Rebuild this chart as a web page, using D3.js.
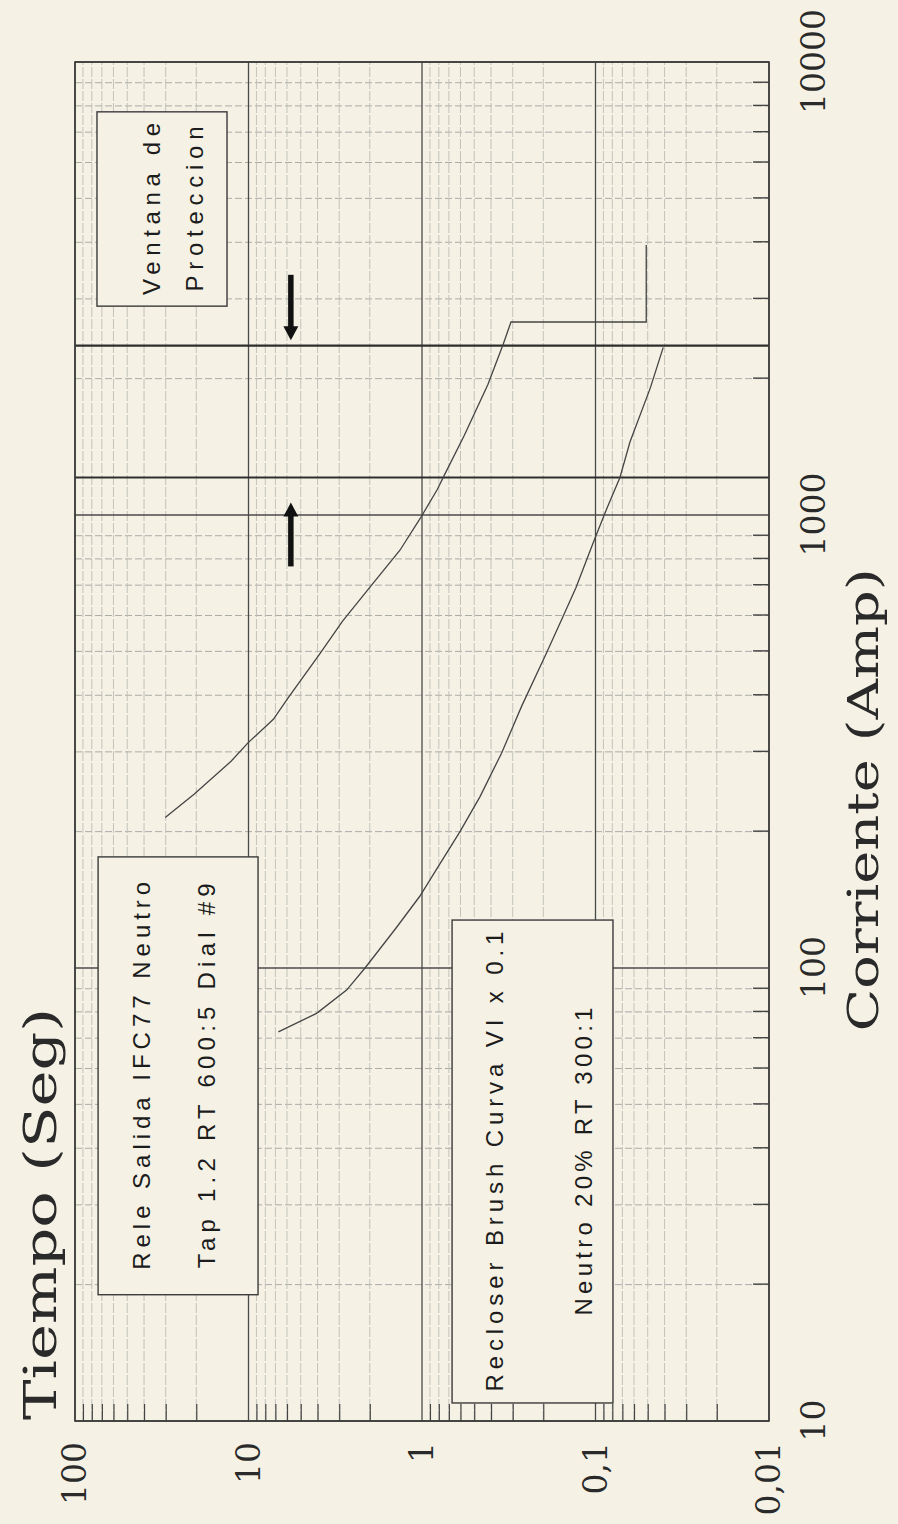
<!DOCTYPE html>
<html>
<head>
<meta charset="utf-8">
<script src="https://cdn.jsdelivr.net/npm/d3@7"></script>
<style>
html, body { margin: 0; padding: 0; background: #f5f2e5; }
svg { display: block; }
.box-text { font-family: "Liberation Sans", Arial, sans-serif; font-size: 24px; fill: #1c1c1c; }
.ax-text { font-family: "DejaVu Serif", serif; fill: #2a2a2a; }
</style>
</head>
<body>
<svg id="chart"></svg>
<script>
// current (A) runs along the plot's horizontal axis, time (s) along the vertical one;
// the whole sheet is turned a quarter turn, as on the scanned printout
const currentTicks = [10, 100, 1000, 10000];
const currentLabels = ['10', '100', '1000', '10000'];
const timeTicks = [100, 10, 1, 0.1, 0.01];
const timeLabels = ['100', '10', '1', '0,1', '0,01'];

// Rele Salida IFC77 Neutro (ends with the instantaneous step)
const releCurrent = [215, 242, 286, 314, 354, 396, 491, 583, 692, 836, 985, 1140, 1220, 1500, 1941, 2385, 2667, 2667, 3945];
const releTime = [30.2, 20.6, 12.6, 10.07, 7.19, 5.87, 3.92, 2.87, 2.00, 1.34, 1.02, 0.815, 0.747, 0.570, 0.417, 0.340, 0.307, 0.051, 0.051];

// Recloser Brush curva VI x 0.1
const recloserCurrent = [72.3, 79.4, 89.4, 100, 123, 144, 170, 200, 239, 298, 379, 491, 593, 692, 865, 1028, 1210, 1449, 1908, 2344];
const recloserTime = [6.73, 4.05, 2.72, 2.13, 1.40, 1.03, 0.787, 0.604, 0.463, 0.348, 0.266, 0.194, 0.155, 0.1295, 0.1035, 0.0865, 0.0723, 0.0633, 0.0483, 0.0407];

// ventana de proteccion: limit currents and the arrows pointing at them
const windowCurrents = [1210, 2366];
const arrowTime = 5.7;
const arrowFrom = [3390, 770];
const arrowTo = [2430, 1065];

// text boxes, in data units: [current lo, current hi], [time lo, time hi]
const boxes = [
    { cur: [2891, 7762], time: [13.3, 74.7], lines: ['Ventana de', 'Proteccion'], off: [63, 106], len: [172, 165] },
    { cur: [19.0, 175.9], time: [8.81, 73.6], lines: ['Rele Salida IFC77 Neutro', 'Tap 1.2 RT 600:5 Dial #9'], off: [52, 117], len: [388, 385] },
    { cur: [10.96, 127.6], time: [0.0793, 0.671], lines: ['Recloser Brush Curva VI x 0.1', 'Neutro 20% RT 300:1'], off: [51, 140], len: [460, 308] }
];

const W = 898, H = 1524;
const BG = '#f5f2e5';

const svg = d3.select('#chart').attr('width', W).attr('height', H);
svg.append('rect').attr('width', W).attr('height', H).attr('fill', BG);

// unrotated frame: width H, height W
const g = svg.append('g').attr('transform', `translate(0,${H}) rotate(-90)`);

const x = d3.scaleLog().domain([10, 10000]).range([103, 1462]);
const y = d3.scaleLog().domain([0.01, 100]).range([769, 75]);
const [x0, x1] = x.range();
const [y1, y0] = y.range();

const isDecade = v => Math.abs(Math.log10(v) - Math.round(Math.log10(v))) < 1e-9;
const curMinor = x.ticks().filter(v => !isDecade(v));
const timeMinor = y.ticks().filter(v => !isDecade(v));

// minor grid
g.append('g').selectAll('line').data(curMinor).join('line')
    .attr('x1', d => x(d)).attr('x2', d => x(d))
    .attr('y1', y0).attr('y2', y1)
    .attr('stroke', '#a4a4a0').attr('stroke-width', 0.9)
    .attr('stroke-dasharray', '7 3');
g.append('g').selectAll('line').data(timeMinor).join('line')
    .attr('x1', x0).attr('x2', x1)
    .attr('y1', d => y(d)).attr('y2', d => y(d))
    .attr('stroke', '#bdbdb6').attr('stroke-width', 0.9)
    .attr('stroke-dasharray', '10 2');

// decade lines
g.append('g').selectAll('line').data(currentTicks).join('line')
    .attr('x1', d => x(d)).attr('x2', d => x(d))
    .attr('y1', y0).attr('y2', y1)
    .attr('stroke', '#4a4a4a').attr('stroke-width', 1.4);
g.append('g').selectAll('line').data(timeTicks).join('line')
    .attr('x1', x0).attr('x2', x1)
    .attr('y1', d => y(d)).attr('y2', d => y(d))
    .attr('stroke', '#4a4a4a').attr('stroke-width', 1.3);

// protection window limits
g.append('g').selectAll('line').data(windowCurrents).join('line')
    .attr('x1', d => x(d)).attr('x2', d => x(d))
    .attr('y1', y0).attr('y2', y1)
    .attr('stroke', '#2e2e2e').attr('stroke-width', 2.2);

// inner minor ticks on the time edge and on the current edge
g.append('g')
    .attr('transform', `translate(${x0},0)`)
    .call(d3.axisLeft(y).tickValues(timeMinor).tickSizeInner(-17).tickSizeOuter(0).tickFormat(''))
    .call(a => a.select('.domain').remove())
    .call(a => a.selectAll('line').attr('stroke', '#444').attr('stroke-width', 1.2));
g.append('g')
    .attr('transform', `translate(0,${y1})`)
    .call(d3.axisBottom(x).tickValues(curMinor).tickSizeInner(-16).tickSizeOuter(0).tickFormat(''))
    .call(a => a.select('.domain').remove())
    .call(a => a.selectAll('line').attr('stroke', '#444').attr('stroke-width', 1.4));

// frame
g.append('rect')
    .attr('x', x0).attr('y', y0)
    .attr('width', x1 - x0).attr('height', y1 - y0)
    .attr('fill', 'none').attr('stroke', '#3a3a3a').attr('stroke-width', 1.6);

// curves
const line = d3.line().x(d => x(d[0])).y(d => y(d[1]));
g.append('path')
    .datum(d3.zip(releCurrent, releTime))
    .attr('d', line)
    .attr('fill', 'none').attr('stroke', '#444').attr('stroke-width', 1.3);
g.append('path')
    .datum(d3.zip(recloserCurrent, recloserTime))
    .attr('d', line)
    .attr('fill', 'none').attr('stroke', '#444').attr('stroke-width', 1.3);

// arrows
arrowFrom.forEach((c, i) => {
    const ya = y(arrowTime);
    const xt = x(arrowTo[i]);
    const dir = Math.sign(x(c) - xt);
    g.append('line')
        .attr('x1', x(c)).attr('x2', xt + dir * 10)
        .attr('y1', ya).attr('y2', ya)
        .attr('stroke', '#111').attr('stroke-width', 5.5);
    g.append('path')
        .attr('d', `M${xt},${ya} L${xt + dir * 14},${ya - 7.5} L${xt + dir * 14},${ya + 7.5} Z`)
        .attr('fill', '#111');
});

// text boxes
boxes.forEach(b => {
    const bx0 = x(b.cur[0]), bx1 = x(b.cur[1]);
    const by0 = y(b.time[1]), by1 = y(b.time[0]);
    g.append('rect')
        .attr('x', bx0).attr('y', by0)
        .attr('width', bx1 - bx0).attr('height', by1 - by0)
        .attr('fill', BG).attr('stroke', '#3a3a3a').attr('stroke-width', 1.4);
    b.lines.forEach((t, i) => {
        g.append('text')
            .attr('class', 'box-text')
            .attr('x', (bx0 + bx1) / 2)
            .attr('y', by0 + b.off[i])
            .attr('text-anchor', 'middle')
            .attr('textLength', b.len[i])
            .attr('lengthAdjust', 'spacing')
            .text(t);
    });
});

// tick labels
g.append('g')
    .attr('transform', `translate(${x0},0)`)
    .call(d3.axisLeft(y).tickValues(timeTicks).tickFormat((d, i) => timeLabels[i]).tickSize(0).tickPadding(21))
    .call(a => a.select('.domain').remove())
    .call(a => a.attr('font-size', null).attr('font-family', null))
    .call(a => a.selectAll('text').attr('class', 'ax-text').style('font-size', '33px'));
g.append('g')
    .attr('transform', `translate(0,${y1})`)
    .call(d3.axisBottom(x).tickValues(currentTicks).tickFormat((d, i) => currentLabels[i]).tickSize(0).tickPadding(33))
    .call(a => a.select('.domain').remove())
    .call(a => a.attr('font-size', null).attr('font-family', null))
    .call(a => a.selectAll('text').attr('class', 'ax-text').style('font-size', '33px'));

// axis titles
g.append('text')
    .attr('class', 'ax-text')
    .attr('x', 104).attr('y', 56)
    .style('font-size', '44px')
    .attr('textLength', 412).attr('lengthAdjust', 'spacingAndGlyphs')
    .text('Tiempo (Seg)');
g.append('text')
    .attr('class', 'ax-text')
    .attr('x', 724).attr('y', 878)
    .attr('text-anchor', 'middle')
    .style('font-size', '43px')
    .attr('textLength', 463).attr('lengthAdjust', 'spacingAndGlyphs')
    .text('Corriente (Amp)');
</script>
</body>
</html>
